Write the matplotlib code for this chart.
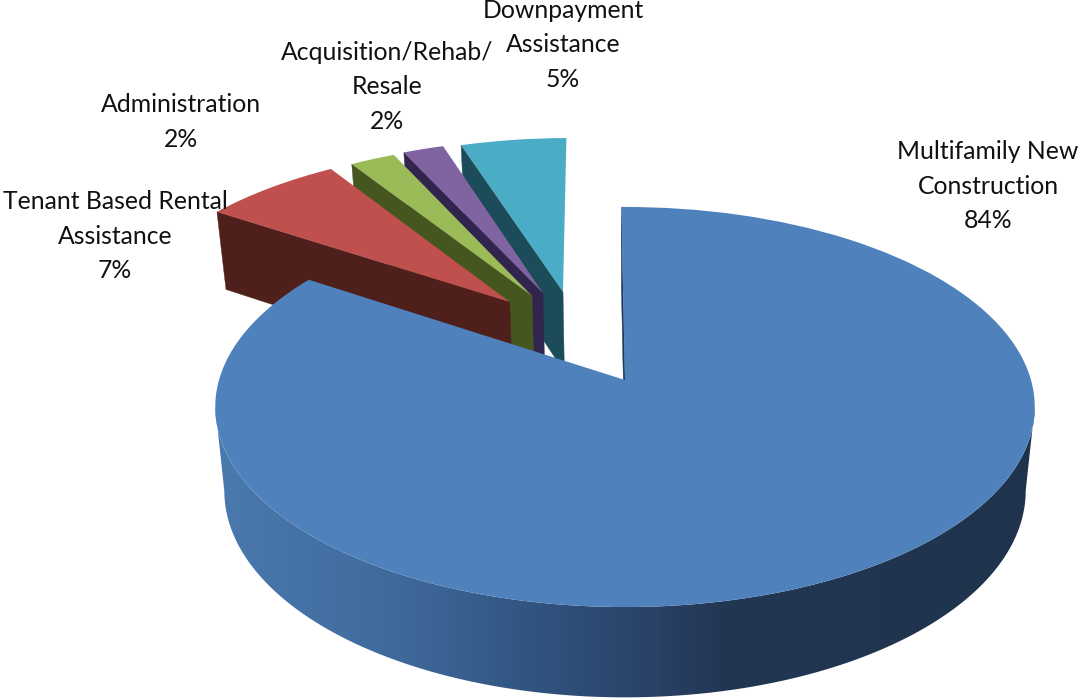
import numpy as np
import matplotlib
matplotlib.use("Agg")
import matplotlib.pyplot as plt
from matplotlib.patches import Polygon
from matplotlib.transforms import Transform, Affine2D

# ---- data ----
categories = ["Multifamily New\nConstruction", "Tenant Based Rental\nAssistance",
              "Administration", "Acquisition/Rehab/\nResale", "Downpayment\nAssistance"]
shares = [84.4, 6.55, 2.13, 1.92, 5.0]

# ---- style ----
face_colors = ["#4f81bd", "#bf504d", "#9bbb59", "#8064a2", "#4bacc6"]
wall_colors = ["#1d3a5c", "#4f1f1b", "#45561f", "#31254d", "#1c4c59"]
explode_uv = [(0, 0), (-0.300, 0.420), (-0.243, 0.454), (-0.215, 0.471), (-0.1626, 0.478)]
label_xy = [(988, 186), (115, 236), (181, 122), (387, 87), (563, 45)]
layer = [9, 7, 5, 3, 1]
start_angle = 90.6


class Perspective(Transform):
    """Maps the unit pie plane to picture pixels with a tilt."""
    input_dims = output_dims = 2
    is_separable = False
    has_inverse = False

    def __init__(self, a, b, k, x0, y0):
        super().__init__()
        self.p = (a, b, k, x0, y0)

    def transform_non_affine(self, values):
        a, b, k, x0, y0 = self.p
        values = np.asarray(values, float)
        u, v = values[:, 0], values[:, 1]
        d = 1 + k * v
        return np.column_stack([x0 + a * u / d, y0 - b * v / d])


top = Perspective(406, 196.4, 0.135, 625, 380)
bottom = Perspective(397, 202.7, 0.135, 625, 463)

fig = plt.figure(figsize=(10.81, 6.98), dpi=100)
ax = fig.add_axes([0, 0, 1, 1])
wedges, _ = ax.pie(shares, colors=face_colors, startangle=start_angle,
                   counterclock=False)

side_x = [225, 400, 520, 640, 720, 1030]
side_r = [74, 63, 50, 42, 34, 31]
side_g = [121, 105, 86, 68, 55, 51]
side_b = [174, 155, 130, 105, 83, 76]

for w, off, wall, z in zip(wedges, explode_uv, wall_colors, layer):
    du, dv = off
    w.set_transform(Affine2D().translate(du, dv) + top + ax.transData)
    w.set_clip_on(False)
    w.set_linewidth(0)
    w.set_zorder(z + 1)

    # left-hand radial wall
    t = np.deg2rad(w.theta2)
    radial = np.array([[du, dv], [du + np.cos(t), dv + np.sin(t)]])
    a, b = top.transform(radial)
    c, d = bottom.transform(radial)
    ax.add_patch(Polygon([a, b, d, c], closed=True, fc=wall, ec=wall, lw=0.3,
                         zorder=z, clip_on=False))

    # curved front rim of the big slice, shaded smoothly from left to right
    if w is wedges[0]:
        th = np.deg2rad(np.linspace(-172.2, -7.8, 400))
        rim = np.column_stack([np.cos(th), np.sin(th)])
        outline = np.vstack([top.transform(rim), bottom.transform(rim)[::-1]])
        xs = np.arange(200, 1060)
        grad = np.column_stack([np.interp(xs, side_x, side_r),
                                np.interp(xs, side_x, side_g),
                                np.interp(xs, side_x, side_b)]) / 255
        im = ax.imshow(grad[None, :, :], extent=(200, 1060, 698, 300), aspect="auto",
                       zorder=z, interpolation="bilinear")
        clip = Polygon(outline, closed=True, transform=ax.transData, fc="none", ec="none")
        ax.add_patch(clip)
        im.set_clip_path(clip)

ax.set_aspect("auto")
ax.set_xlim(0, 1081)
ax.set_ylim(698, 0)
ax.axis("off")

for cat, pct, (x, y) in zip(categories, shares, label_xy):
    ax.text(x, y, f"{cat}\n{pct:.0f}%", ha="center", va="center", multialignment="center",
            family="Lato", fontsize=17.8, linespacing=1.6, color="#111111", zorder=20,
            clip_on=False)

fig.savefig("out.png", dpi=100)
